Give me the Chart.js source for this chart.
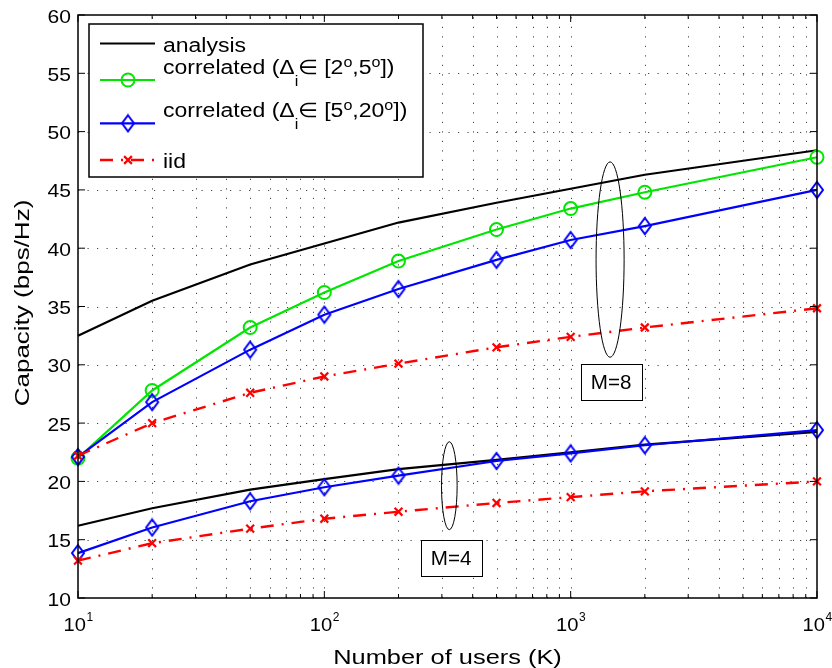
<!DOCTYPE html>
<html><head><meta charset="utf-8">
<script src="https://cdn.jsdelivr.net/npm/chart.js@4"></script>
<style>html,body{margin:0;padding:0;background:#fff}#wrap{width:832px;height:668px;position:relative}</style>
</head><body><div id="wrap"><canvas id="c"></canvas></div>
<script>
// ---------- data ----------
const users = [10, 20, 50, 100, 200, 500, 1000, 2000, 10000];
const analysisM8 = [32.5, 35.5, 38.6, 40.4, 42.2, 43.9, 45.1, 46.3, 48.4];
const corrNarrowM8 = [22.0, 27.8, 33.2, 36.2, 38.9, 41.6, 43.4, 44.8, 47.8];
const corrWideM8 = [22.1, 26.8, 31.3, 34.3, 36.5, 39.0, 40.7, 41.9, 45.0];
const iidM8 = [22.2, 25.0, 27.6, 29.0, 30.1, 31.5, 32.4, 33.2, 34.85];
const analysisM4 = [16.2, 17.7, 19.3, 20.2, 21.05, 21.85, 22.5, 23.15, 24.25];
const corrWideM4 = [13.85, 16.05, 18.3, 19.5, 20.5, 21.75, 22.4, 23.1, 24.4];
const iidM4 = [13.2, 14.7, 15.95, 16.8, 17.4, 18.15, 18.65, 19.15, 20.0];

const yTicks = [10, 15, 20, 25, 30, 35, 40, 45, 50, 55, 60];
const xDecades = [10, 100, 1000, 10000];
const xTickLabels = [['10', '1'], ['10', '2'], ['10', '3'], ['10', '4']];
const xTitle = 'Number of users (K)';
const yTitle = 'Capacity (bps/Hz)';

const legendItems = [
  { key: 'analysis', segs: [{ t: 'analysis' }] },
  { key: 'narrow', segs: [{ t: 'correlated (' }, { t: 'Δ' }, { t: 'i', sub: true }, { t: '∈ [2' }, { t: 'o', sup: true }, { t: ',5' }, { t: 'o', sup: true }, { t: '])' }] },
  { key: 'wide', segs: [{ t: 'correlated (' }, { t: 'Δ' }, { t: 'i', sub: true }, { t: '∈ [5' }, { t: 'o', sup: true }, { t: ',20' }, { t: 'o', sup: true }, { t: '])' }] },
  { key: 'iid', segs: [{ t: 'iid' }] }
];

// annotation groups (in data units)
const ellipses = [
  { kLo: 1268, kHi: 1648, yLo: 30.65, yHi: 47.4 },
  { kLo: 299, kHi: 346, yLo: 15.86, yHi: 23.4 }
];
const groupLabels = [
  { k: 1459, y: 28.55, text: 'M=8' },
  { k: 327, y: 13.46, text: 'M=4' }
];

// ---------- styles ----------
const FONT = '"Liberation Sans", Arial, sans-serif';
const GREEN = '#00e600', BLUE = '#0000ff', RED = '#ff0000';
const RED_DASH = [13, 8, 2, 8];

function makeDiamond() {
  const d = document.createElement('canvas');
  d.width = 16; d.height = 20;
  const c = d.getContext('2d');
  c.strokeStyle = BLUE; c.lineWidth = 2;
  c.beginPath(); c.moveTo(8, 2); c.lineTo(14, 10); c.lineTo(8, 18); c.lineTo(2, 10); c.closePath(); c.stroke();
  return d;
}
const diamond = makeDiamond();

const pts = arr => users.map((k, i) => ({ x: k, y: arr[i] }));

const styles = {
  analysis: { borderColor: '#000', borderWidth: 2.2, pointRadius: 0, order: 3 },
  narrow: { borderColor: GREEN, borderWidth: 2.2, pointStyle: 'circle', pointRadius: 6.5, pointBorderWidth: 2, pointBorderColor: GREEN, pointBackgroundColor: 'rgba(0,0,0,0)', order: 2 },
  wide: { borderColor: BLUE, borderWidth: 2.2, pointStyle: diamond, pointRadius: 8, pointBorderColor: BLUE, pointBackgroundColor: 'rgba(0,0,0,0)', order: 1 },
  iid: { borderColor: RED, borderWidth: 2.4, borderDash: RED_DASH, pointStyle: 'crossRot', pointRadius: 5.5, pointBorderWidth: 2.2, pointBorderColor: RED, order: 0 }
};

function ds(arr, key) {
  return Object.assign({ data: pts(arr), fill: false, tension: 0, clip: false }, styles[key]);
}

// ---------- text helpers ----------
function txt(ctx, s, x, y, size, sx, align) {
  ctx.save();
  ctx.font = size + 'px ' + FONT;
  ctx.translate(x, y);
  ctx.scale(sx, 1);
  ctx.textAlign = align || 'left';
  ctx.textBaseline = 'alphabetic';
  ctx.fillText(s, 0, 0);
  ctx.restore();
}
function width(ctx, s, size, sx) {
  ctx.save(); ctx.font = size + 'px ' + FONT; const w = ctx.measureText(s).width * sx; ctx.restore(); return w;
}
function rich(ctx, segs, x, y, size, sx) {
  let cx = x;
  segs.forEach(sg => {
    const fs = (sg.sub || sg.sup) ? size * 0.7 : size;
    const dy = sg.sub ? size * 0.6 : (sg.sup ? -size * 0.33 : 0);
    txt(ctx, sg.t, cx, y + dy, fs, sx);
    cx += width(ctx, sg.t, fs, sx);
  });
}

function drawMarker(ctx, key, x, y) {
  const st = styles[key];
  if (!st.pointRadius) return;
  ctx.save();
  ctx.strokeStyle = st.pointBorderColor; ctx.fillStyle = 'rgba(0,0,0,0)';
  ctx.lineWidth = st.pointBorderWidth || 2;
  Chart.helpers.drawPoint(ctx, { pointStyle: st.pointStyle, radius: st.pointRadius, rotation: 0, borderWidth: st.pointBorderWidth || 2 }, x, y);
  ctx.restore();
}

// ---------- plugin ----------
const decor = {
  id: 'decor',
  beforeDatasetsDraw(chart) {
    const { ctx, chartArea: a, scales: { x, y } } = chart;
    ctx.save();
    ctx.strokeStyle = '#444'; ctx.lineWidth = 1; ctx.setLineDash([1.2, 8.3]);
    yTicks.forEach(v => {
      if (v === 10 || v === 60) return;
      const py = Math.round(y.getPixelForValue(v)) + 0.5;
      ctx.beginPath(); ctx.moveTo(a.left, py); ctx.lineTo(a.right, py); ctx.stroke();
    });
    xDecades.slice(0, 3).forEach(d => {
      for (let m = 1; m <= 9; m++) {
        const v = d * m; if (v === 10) continue;
        const px = Math.round(x.getPixelForValue(v)) + 0.5;
        ctx.beginPath(); ctx.moveTo(px, a.bottom); ctx.lineTo(px, a.top); ctx.stroke();
      }
    });
    ctx.restore();
  },
  afterDatasetsDraw(chart) {
    const { ctx, chartArea: a, scales: { x, y } } = chart;
    ctx.save();
    // axes box
    ctx.strokeStyle = '#000'; ctx.lineWidth = 1.5; ctx.setLineDash([]);
    ctx.strokeRect(a.left, a.top, a.right - a.left, a.bottom - a.top);
    // ticks
    ctx.lineWidth = 1;
    yTicks.forEach(v => {
      const py = y.getPixelForValue(v);
      ctx.beginPath();
      ctx.moveTo(a.left, py); ctx.lineTo(a.left + 7, py);
      ctx.moveTo(a.right, py); ctx.lineTo(a.right - 7, py);
      ctx.stroke();
    });
    xDecades.forEach((d, i) => {
      const px = x.getPixelForValue(d);
      ctx.beginPath();
      ctx.moveTo(px, a.bottom); ctx.lineTo(px, a.bottom - 7);
      ctx.moveTo(px, a.top); ctx.lineTo(px, a.top + 7);
      ctx.stroke();
      if (i < 3) for (let m = 2; m <= 9; m++) {
        const pm = x.getPixelForValue(d * m);
        ctx.beginPath();
        ctx.moveTo(pm, a.bottom); ctx.lineTo(pm, a.bottom - 4);
        ctx.moveTo(pm, a.top); ctx.lineTo(pm, a.top + 4);
        ctx.stroke();
      }
    });
    // tick labels
    ctx.fillStyle = '#000';
    yTicks.forEach(v => txt(ctx, String(v), 71, y.getPixelForValue(v) + 7.5, 18, 1.17, 'right'));
    xDecades.forEach((d, i) => {
      const [b, e] = xTickLabels[i];
      const wb = width(ctx, b, 18, 1.12), we = width(ctx, e, 12, 1.0);
      const x0 = x.getPixelForValue(d) - (wb + we) / 2;
      txt(ctx, b, x0, 631, 18, 1.12);
      txt(ctx, e, x0 + wb + 0.5, 621, 12, 1.0);
    });
    // axis titles
    txt(ctx, xTitle, (a.left + a.right) / 2, 664, 20, 1.27, 'center');
    ctx.save();
    ctx.translate(29, 303); ctx.rotate(-Math.PI / 2);
    txt(ctx, yTitle, 0, 0, 20, 1.3, 'center');
    ctx.restore();
    // ellipses
    ctx.lineWidth = 1; ctx.strokeStyle = '#000';
    ellipses.forEach(e => {
      const x0 = x.getPixelForValue(e.kLo), x1 = x.getPixelForValue(e.kHi);
      const y0 = y.getPixelForValue(e.yHi), y1 = y.getPixelForValue(e.yLo);
      ctx.beginPath();
      ctx.ellipse((x0 + x1) / 2, (y0 + y1) / 2, (x1 - x0) / 2, (y1 - y0) / 2, 0, 0, Math.PI * 2);
      ctx.stroke();
    });
    // group labels
    groupLabels.forEach(g => {
      const cx = x.getPixelForValue(g.k), cy = y.getPixelForValue(g.y);
      ctx.fillStyle = '#fff';
      ctx.fillRect(cx - 30.5, cy - 18, 61, 36);
      ctx.strokeStyle = '#000'; ctx.lineWidth = 1;
      ctx.strokeRect(Math.round(cx - 30.5) + 0.5, Math.round(cy - 18) + 0.5, 61, 36);
      ctx.fillStyle = '#000';
      txt(ctx, g.text, cx, cy + 7.5, 20, 1.03, 'center');
    });
    // legend
    const L = { x: 89, y: 24, w: 334, h: 153 };
    ctx.fillStyle = '#fff'; ctx.fillRect(L.x, L.y, L.w, L.h);
    ctx.strokeStyle = '#000'; ctx.lineWidth = 1.5; ctx.strokeRect(L.x, L.y, L.w, L.h);
    const rows = [
      { line: 43.5, base: 51.7 },
      { line: 80, base: 74 },
      { line: 123.3, base: 116.7 },
      { line: 160, base: 168.3 }
    ];
    legendItems.forEach((it, i) => {
      const r = rows[i], st = styles[it.key];
      ctx.save();
      ctx.strokeStyle = st.borderColor; ctx.lineWidth = st.borderWidth;
      ctx.setLineDash(st.borderDash || []);
      ctx.beginPath(); ctx.moveTo(100, r.line); ctx.lineTo(155, r.line); ctx.stroke();
      ctx.restore();
      drawMarker(ctx, it.key, 128, r.line);
      ctx.fillStyle = '#000';
      rich(ctx, it.segs, 163, r.base, 20, 1.15);
    });
    ctx.restore();
  }
};

new Chart(document.getElementById('c'), {
  type: 'line',
  data: {
    datasets: [
      ds(iidM8, 'iid'), ds(iidM4, 'iid'),
      ds(corrWideM8, 'wide'), ds(corrWideM4, 'wide'),
      ds(corrNarrowM8, 'narrow'),
      ds(analysisM8, 'analysis'), ds(analysisM4, 'analysis')
    ]
  },
  options: {
    responsive: true, maintainAspectRatio: false, animation: false, events: [],
    layout: { padding: { left: 78, right: 15, top: 15, bottom: 70 } },
    plugins: { legend: { display: false }, tooltip: { enabled: false } },
    scales: {
      x: { type: 'logarithmic', min: 10, max: 10000, display: false },
      y: { type: 'linear', min: 10, max: 60, display: false }
    }
  },
  plugins: [decor]
});
</script></body></html>
